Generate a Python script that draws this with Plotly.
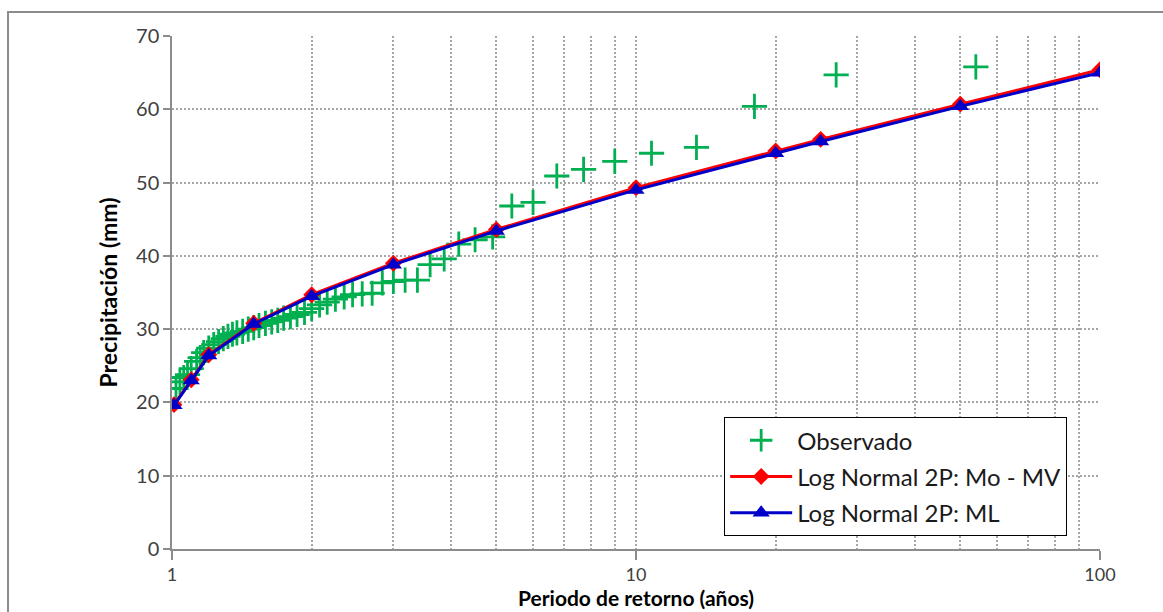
import plotly.graph_objects as go

# Observed annual maxima, with their empirical return periods (years)
obs_T = [54, 27, 18, 13.5, 10.8, 9.0, 7.71, 6.75, 6.0, 5.4, 4.91, 4.5, 4.15, 3.86,
         3.6, 3.38, 3.18, 3.0, 2.84, 2.7, 2.57, 2.45, 2.35, 2.25, 2.16, 2.08, 2.0,
         1.93, 1.86, 1.8, 1.74, 1.69, 1.64, 1.59, 1.54, 1.5, 1.46, 1.42, 1.38, 1.35,
         1.32, 1.29, 1.26, 1.23, 1.2, 1.17, 1.15, 1.13, 1.1, 1.08, 1.06, 1.04, 1.02]
obs_P = [65.8, 64.7, 60.4, 54.8, 54.0, 52.9, 51.8, 50.9, 47.3, 46.8, 42.6, 42.2, 41.6,
         39.6, 38.8, 36.7, 36.7, 36.5, 36.3, 34.9, 34.8, 34.7, 34.4, 34.1, 33.7, 33.3,
         32.8, 32.3, 32.0, 31.7, 31.5, 31.2, 31.0, 30.8, 30.5, 30.2, 30.0, 29.7, 29.5,
         29.3, 29.0, 28.7, 28.3, 27.9, 27.4, 26.8, 26.1, 25.6, 24.6, 23.8, 23.4, 22.8,
         21.9]

# Fitted Log Normal (2 parameters) quantiles
fit_T = [1.01, 1.1, 1.2, 1.5, 2, 3, 5, 10, 20, 25, 50, 100]
fit_mo_mv = [19.7, 23.1, 26.5, 30.8, 34.7, 39.0, 43.6, 49.3, 54.3, 55.9, 60.7, 65.4]
fit_ml = [19.6, 23.0, 26.4, 30.7, 34.5, 38.8, 43.4, 49.0, 54.0, 55.6, 60.4, 65.0]

x_major = [1, 10, 100]
x_minor = [2, 3, 4, 5, 6, 7, 8, 9, 20, 30, 40, 50, 60, 70, 80, 90]
y_ticks = [0, 10, 20, 30, 40, 50, 60, 70]

x_title = "Periodo de retorno (años)"
y_title = "Precipitación (mm)"

FONT = "Lato, 'Open Sans', sans-serif"
GRID = "#a6a6a6"
AXIS = "#8c8c8c"

fig = go.Figure()

fig.add_trace(go.Scatter(
    x=obs_T, y=obs_P, mode="markers", name="Observado", legendgroup="obs",
    marker=dict(symbol="cross-thin", size=18, color="#00b050",
                line=dict(color="#00b050", width=2.8)),
))
fig.add_trace(go.Scatter(
    x=fit_T, y=fit_mo_mv, mode="lines+markers", name="Log Normal 2P: Mo - MV",
    legendgroup="momv",
    line=dict(color="#ff0000", width=3),
    marker=dict(symbol="diamond", size=13, color="#ff0000"),
))
fig.add_trace(go.Scatter(
    x=fit_T, y=fit_ml, mode="lines+markers", name="Log Normal 2P: ML",
    legendgroup="ml",
    line=dict(color="#0000c8", width=3),
    marker=dict(symbol="triangle-up", size=15, color="#0000c8"),
))

fig.update_layout(
    width=1163, height=612,
    margin=dict(l=172, r=63, t=36, b=63, autoexpand=False),
    paper_bgcolor="white", plot_bgcolor="white",
    font=dict(family=FONT, color="#404040"),
    showlegend=True,
    legend=dict(
        x=0.595, y=0.257, xanchor="left", yanchor="top",
        bgcolor="white", bordercolor="#000000", borderwidth=1,
        font=dict(family=FONT, size=24, color="#1a1a1a"),
        itemwidth=62, tracegroupgap=2,
    ),
    xaxis=dict(
        type="log", range=[0, 2], automargin=False,
        tickvals=x_major, ticktext=[str(v) for v in x_major],
        ticks="outside", ticklen=9, tickcolor=AXIS, tickwidth=1.5,
        showline=True, linecolor=AXIS, linewidth=1.5,
        showgrid=True, gridcolor=GRID, gridwidth=1.5, griddash="2px,2px",
        minor=dict(tickvals=x_minor, showgrid=True, gridcolor=GRID,
                   gridwidth=1.5, griddash="2px,2px", ticks=""),
        zeroline=False,
        tickfont=dict(family=FONT, size=18, color="#404040"),
    ),
    yaxis=dict(
        range=[0, 70], tickvals=y_ticks, automargin=False,
        ticks="outside", ticklen=7, tickcolor=AXIS, tickwidth=1.5,
        showline=True, linecolor=AXIS, linewidth=1.5,
        showgrid=True, gridcolor=GRID, gridwidth=1.5, griddash="2px,2px",
        zeroline=False,
        tickfont=dict(family=FONT, size=20, color="#404040"),
    ),
    annotations=[
        dict(text=f"<b>{x_title}</b>", xref="paper", yref="paper",
             x=0.5, y=-0.1209, xanchor="center", yanchor="bottom", showarrow=False,
             borderpad=0,
             font=dict(family=FONT, size=21, color="#000000")),
        dict(text=f"<b>{y_title}</b>", xref="paper", yref="paper",
             x=-0.069, y=0.5, xanchor="center", yanchor="middle", showarrow=False,
             textangle=-90,
             font=dict(family=FONT, size=23, color="#000000")),
    ],
    shapes=[
        # outer chart frame
        dict(type="rect", xref="paper", yref="paper",
             x0=-0.1767, x1=1.08, y0=-0.14, y1=1.0468,
             line=dict(color="#8c8c8c", width=2), fillcolor="rgba(0,0,0,0)",
             layer="below"),
    ],
)

fig.write_html("out.html")
